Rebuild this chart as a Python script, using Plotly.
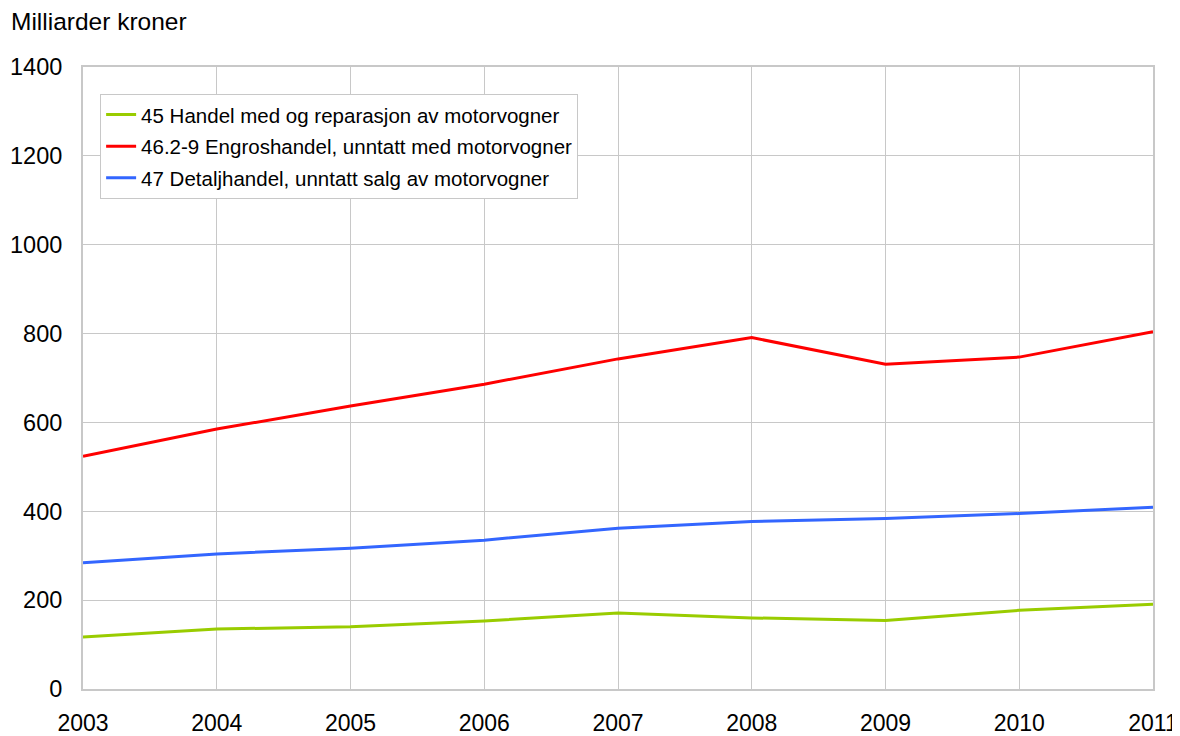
import plotly.graph_objects as go

years = [2003, 2004, 2005, 2006, 2007, 2008, 2009, 2010, 2011]
motorvogner = [117, 135, 140, 153, 171, 160, 154, 177, 191]
engros = [524, 585, 637, 686, 743, 791, 731, 747, 804]
detalj = [284, 304, 317, 335, 362, 377, 384, 395, 409]

names = [
    "45 Handel med og reparasjon av motorvogner",
    "46.2-9 Engroshandel, unntatt med motorvogner",
    "47 Detaljhandel, unntatt salg av motorvogner",
]
colors = ["#99cc00", "#ff0000", "#3366ff"]
series = [motorvogner, engros, detalj]

fig = go.Figure()
for i, (n, c, s) in enumerate(zip(names, colors, series)):
    fig.add_trace(go.Scatter(x=years, y=s, mode="lines", name=n,
                             legendgroup=f"g{i}",
                             line=dict(color=c, width=3)))

font = "Liberation Sans, Arial, sans-serif"
grid = "#c8c8c8"
# page body has an 8px margin, so the figure is shifted by 8px
fig.update_layout(
    width=1180, height=728,
    margin=dict(l=75, r=35, t=59, b=47, autoexpand=False),
    paper_bgcolor="white", plot_bgcolor="white",
    font=dict(family=font, size=21, color="black"),
    showlegend=True,
    legend=dict(x=0.016, y=0.957, xanchor="left", yanchor="top",
                bordercolor=grid, borderwidth=1, bgcolor="white",
                font=dict(size=20.5), tracegroupgap=2),
    xaxis=dict(range=[2003, 2011], tickvals=years, ticktext=[str(y) for y in years],
               showgrid=True, gridcolor=grid, gridwidth=1,
               showline=True, linecolor=grid, linewidth=2, mirror=True,
               ticks="", zeroline=False, ticklabelstandoff=12, automargin=False,
               tickfont=dict(size=23)),
    yaxis=dict(range=[0, 1400], tickvals=[0, 200, 400, 600, 800, 1000, 1200, 1400],
               showgrid=True, gridcolor=grid, gridwidth=1,
               showline=True, linecolor=grid, linewidth=2, mirror=True,
               ticks="", zeroline=False, ticklabelstandoff=14, automargin=False,
               tickfont=dict(size=23.5)),
    annotations=[dict(text="Milliarder kroner", xref="paper", yref="paper",
                      x=(9 - 83) / 1070, y=(689 - 22) / 622,
                      xanchor="left", yanchor="middle", showarrow=False,
                      font=dict(size=24.5))],
)

fig.write_html("out.html")
